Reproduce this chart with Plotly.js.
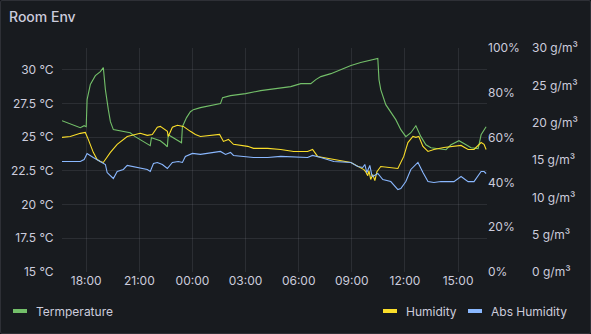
<!DOCTYPE html>
<html>
<head>
<meta charset="utf-8">
<script src="https://cdn.plot.ly/plotly-3.0.1.min.js"></script>
<style>
html,body{margin:0;padding:0;background:#111217;}
#wrap{position:relative;width:591px;height:334px;}
#plot{position:absolute;left:0;top:0;width:591px;height:334px;border-radius:2px;overflow:hidden;background:#181b1f;}
#frame{position:absolute;left:0;top:0;width:589px;height:332px;border:1px solid rgba(204,204,220,0.12);border-radius:2px;pointer-events:none;}
</style>
</head>
<body>
<div id="wrap"><div id="plot"></div><div id="frame"></div></div>
<script>
// ---- data (times are HH:MM; window runs 16:38 day 1 -> 16:38 day 2) ----
const rangeStart = '2024-03-01 16:38';
const rangeEnd = '2024-03-02 16:38';

const tempTime = ['16:38','17:06','17:40','17:53','18:00','18:03','18:14','18:31','18:48','18:58','19:05','19:15','19:22','19:32','19:55','20:12','20:29','20:46','21:03','21:31','21:37','21:41','22:11','22:28','22:35','22:38','23:02','23:19','23:23','23:26','23:40','23:53',
  '00:03','00:27','01:01','01:35','01:42','02:09','03:00','03:51','04:42','05:33','06:07','06:41','06:58','07:15','07:49','08:23','08:57','09:30','10:04','10:28','10:32','10:38','10:55','11:12','11:29','11:46','12:03','12:20','12:37','12:54','13:11','13:28','14:02','14:19','14:36','15:03','15:27','15:44','16:08','16:18','16:35'];
const tempValues = [26.21,25.99,25.69,25.84,25.77,27.77,28.89,29.55,29.85,30.15,28.52,27.03,26.14,25.55,25.47,25.40,25.32,25.03,24.80,24.43,24.36,24.95,24.73,24.43,24.28,25.17,24.88,24.65,24.58,25.77,26.44,26.88,
  27.03,27.18,27.33,27.48,27.92,28.07,28.22,28.44,28.59,28.74,28.96,28.96,29.26,29.48,29.70,30.00,30.30,30.52,30.67,30.82,29.26,28.52,27.40,26.81,26.29,25.55,25.03,25.32,25.84,25.03,24.43,24.21,24.14,24.06,24.43,24.73,24.43,24.21,24.14,25.17,25.77];

const humTime = ['16:38','17:06','17:40','17:57','18:07','18:24','18:37','18:48','18:58','19:11','19:22','19:45','20:19','21:03','21:27','21:44','22:01','22:11','22:35','22:38','22:52','23:09','23:29','23:53',
  '00:10','00:27','01:11','01:32','01:45','02:02','02:19','03:07','03:27','04:15','04:59','05:43','06:30','06:47','07:04','07:59','08:57','09:41','09:47','09:54','09:58','10:04','10:11','10:18','10:25','10:38','11:22','11:36','11:56','12:10','12:27','12:37','12:47','13:01','13:18','13:38','14:12','14:36','15:10','15:34','15:54','16:18','16:28','16:35'];
const humValues = [60.1,60.5,61.9,62.3,59.2,53.4,50.2,49.3,48.9,51.6,53.4,57.0,60.5,61.9,61.0,61.4,64.6,65.0,62.8,60.5,64.6,65.5,65.0,62.8,
  61.4,60.5,61.0,61.4,58.3,59.2,57.0,56.1,55.2,55.2,54.7,53.8,53.8,54.7,51.6,50.2,48.9,45.7,44.8,43.0,45.3,41.3,43.5,40.8,44.8,47.1,46.6,46.2,51.6,57.8,60.5,60.1,60.5,56.1,53.8,54.7,55.6,56.1,56.5,54.7,54.7,57.8,57.0,54.7];

const absTime = ['16:38','17:40','17:53','18:03','18:24','18:48','19:05','19:11','19:32','19:45','20:06','20:19','20:36','21:03','21:27','21:37','21:48','22:01','22:18','22:35','22:52','23:12','23:26','23:36',
  '00:00','00:27','01:11','01:35','01:52','02:09','02:19','03:07','03:27','04:15','04:59','06:30','06:47','07:15','07:59','08:57','09:20','09:37','09:44','09:51','10:01','10:08','10:11','10:28','10:45','11:12','11:29','11:36','11:46','12:03','12:20','12:44','13:01','13:18','13:38','14:02','14:46','15:10','15:34','15:54','16:18','16:28','16:35'];
const absValues = [14.80,14.80,15.07,15.88,15.34,14.80,14.40,13.32,12.52,13.46,13.73,14.27,14.13,14.00,13.73,13.46,14.54,14.67,14.40,13.86,14.67,14.80,14.67,15.48,
  15.88,15.75,16.02,16.15,15.75,16.02,15.61,15.48,15.34,15.34,15.48,15.34,15.61,15.34,14.80,14.67,14.13,14.00,14.40,13.32,14.27,12.92,12.79,13.19,12.38,12.11,11.44,11.04,11.17,12.11,13.73,14.67,13.32,12.11,11.98,12.11,12.11,12.79,12.11,12.11,13.46,13.46,13.19];

const seriesNames = ['Termperature','Humidity','Abs Humidity'];
const seriesColors = ['#73bf69','#fade2a','#8ab8ff'];
const tempTicks = {min:15, max:31.6, step:2.5, suffix:' °C'};
const humTicks = {min:0, max:100, step:20, suffix:'%'};
const absTicks = {min:0, max:30, step:5, suffix:' g/m³'};

// ---- helpers ----
function toDate(hm){ return (hm >= '16:38' ? '2024-03-01 ' : '2024-03-02 ') + hm; }

const W = 591, H = 334;
const M = {l:62, r:8, t:48, b:62};
const PW = W - M.l - M.r;
const px2x = p => (p - M.l) / PW;

const font = 'Inter, "Noto Sans", sans-serif';
const txt = '#ccccdc';
const grid = 'rgba(204,204,220,0.11)';
const clear = 'rgba(0,0,0,0)';

const traces = [
  {x: tempTime.map(toDate), y: tempValues, name: seriesNames[0], type:'scatter', mode:'lines', yaxis:'y', line:{color:seriesColors[0], width:1.1}, showlegend:false, hoverinfo:'skip'},
  {x: humTime.map(toDate), y: humValues, name: seriesNames[1], type:'scatter', mode:'lines', yaxis:'y2', line:{color:seriesColors[1], width:1.1}, showlegend:false, hoverinfo:'skip'},
  {x: absTime.map(toDate), y: absValues, name: seriesNames[2], type:'scatter', mode:'lines', yaxis:'y3', line:{color:seriesColors[2], width:1.1}, showlegend:false, hoverinfo:'skip'}
];
// legend entries
['legend','legend2','legend3'].forEach((lg, i) => {
  traces.push({x:[null], y:[null], name: seriesNames[i], type:'scatter', mode:'lines', yaxis: i===0?'y':(i===1?'y2':'y3'),
    line:{color:seriesColors[i], width:4, dash:'0px,12px,14px,100px'}, showlegend:true, legend: lg, hoverinfo:'skip'});
});

const legendBase = {orientation:'h', bgcolor:clear, font:{family:font, size:12, color:txt}, xref:'container', yref:'container', xanchor:'left', yanchor:'middle', borderwidth:0, itemclick:false, itemdoubleclick:false};

const layout = {
  width: W, height: H,
  margin: M,
  paper_bgcolor: '#181b1f',
  plot_bgcolor: '#181b1f',
  font: {family: font, size: 12, color: txt},
  title: {text: 'Room Env', x: 9/W, xanchor:'left', xref:'container', y: 1 - 17/H, yanchor:'middle', yref:'container', font:{family:font, size:14, color:txt, weight:500}},
  showlegend: true,
  xaxis: {type:'date', range:[rangeStart, rangeEnd], domain:[0, px2x(487)], tickformat:'%H:%M', dtick: 3*3600*1000, tick0:'2024-03-01 00:00',
    showgrid:true, gridcolor:grid, gridwidth:1, zeroline:false, showline:false, ticks:'', tickfont:{family:font, size:12, color:txt}, fixedrange:true, automargin:false},
  yaxis: {range:[tempTicks.min, tempTicks.max], tick0:tempTicks.min, dtick:tempTicks.step, ticksuffix:tempTicks.suffix, showgrid:true, gridcolor:grid, zeroline:false, showline:false, ticks:'outside', ticklen:5, tickcolor:clear, tickfont:{family:font, size:12, color:txt}, fixedrange:true, automargin:false},
  yaxis2: {range:[humTicks.min, humTicks.max], dtick:humTicks.step, ticksuffix:humTicks.suffix, overlaying:'y', side:'right', anchor:'x', showgrid:false, zeroline:false, showline:false, ticks:'', tickfont:{family:font, size:12, color:txt}, fixedrange:true, automargin:false},
  yaxis3: {range:[absTicks.min, absTicks.max], dtick:absTicks.step, ticksuffix:absTicks.suffix, overlaying:'y', side:'right', anchor:'free', position: px2x(531), showgrid:false, zeroline:false, showline:false, ticks:'', tickfont:{family:font, size:12, color:txt}, fixedrange:true, automargin:false},
  legend: Object.assign({}, legendBase, {x: 0, y: 1 - 311/H, indentation:-4}),
  legend2: Object.assign({}, legendBase, {x: 366/W, y: 1 - 311/H}),
  legend3: Object.assign({}, legendBase, {x: 451/W, y: 1 - 311/H})
};

Plotly.newPlot('plot', traces, layout, {displayModeBar:false, staticPlot:true});
</script>
</body>
</html>
